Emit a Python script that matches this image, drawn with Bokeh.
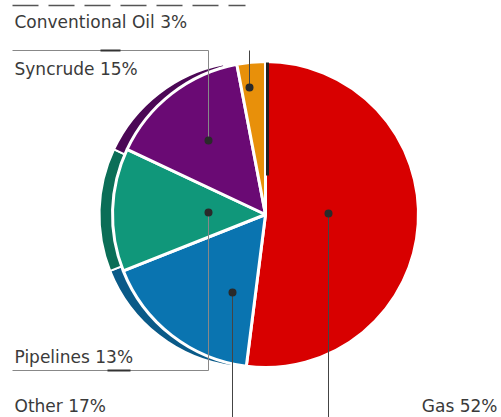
import numpy as np
from bokeh.plotting import figure
from bokeh.embed import file_html
from bokeh.resources import INLINE
from bokeh.core.properties import value

# ---- data ----
categories = ["Gas", "Other", "Pipelines", "Syncrude", "Conventional Oil"]
shares = [52, 17, 13, 15, 3]
labels = ["Gas 52%", "Other 17%", "Pipelines 13%", "Syncrude 15%", "Conventional Oil 3%"]

# ---- style / layout ----
colors = ["#d80000", "#0a74b0", "#10977a", "#6a0a74", "#e8900a"]
rim_colors = ["#d80000", "#0a5a88", "#0b6e57", "#4c0856", "#b86e08"]
W, H = 501, 417
def Y(py):
    return H - py

cx, cy, R = 265, Y(214), 153
rim_dx = -13

p = figure(width=W, height=H, x_range=(0, W), y_range=(0, H), min_border=0,
           x_axis_type=None, y_axis_type=None, toolbar_location=None,
           output_backend="svg", background_fill_color="white",
           border_fill_color="white")
p.grid.visible = False
p.outline_line_color = None

frac = np.array(shares, dtype=float) / np.sum(shares)
cum = np.concatenate([[0], np.cumsum(frac)])
starts = np.pi / 2 - cum[:-1] * 2 * np.pi
ends = np.pi / 2 - cum[1:] * 2 * np.pi

# rim (3D edge) for the left-hand slices
for i in [1, 2, 3]:
    p.wedge(x=cx + rim_dx, y=cy, radius=R, start_angle=starts[i], end_angle=ends[i],
            direction="clock", fill_color=rim_colors[i], line_color="white", line_width=2)

# main slices
p.wedge(x=[cx] * len(shares), y=[cy] * len(shares), radius=R,
        start_angle=list(starts), end_angle=list(ends), direction="clock",
        fill_color=colors, line_color="white", line_width=3)

# dark strip at the start of the gas slice
p.line([cx + 2, cx + 2], [Y(62), Y(175)], line_color="#222222", line_width=3)

# leader dots (Gas, Other, Pipelines, Syncrude, Conventional Oil)
dot_x = [328, 232, 208, 208, 249]
dot_y = [213, 292, 212, 140, 87]
lc = "#444444"
p.line([dot_x[0], dot_x[0]], [Y(dot_y[0]), 0], line_color=lc, line_width=1)
p.line([dot_x[1], dot_x[1]], [Y(dot_y[1]), 0], line_color=lc, line_width=1)
p.line([dot_x[2], dot_x[2], 12], [Y(dot_y[2]), Y(370), Y(370)], line_color="#888888", line_width=1)
p.line([107, 130], [Y(370), Y(370)], line_color="#333333", line_width=2)
p.line([dot_x[3], dot_x[3], 12], [Y(dot_y[3]), Y(50), Y(50)], line_color="#888888", line_width=1)
p.line([100, 120], [Y(50), Y(50)], line_color="#333333", line_width=2)
p.line([dot_x[4], dot_x[4]], [Y(dot_y[4]), Y(50)], line_color=lc, line_width=1)
p.line([12, 245], [Y(5), Y(5)], line_color="#555555", line_width=1.5, line_dash="26 10")

p.scatter(x=dot_x, y=[Y(v) for v in dot_y], size=8, fill_color="#2a2a2a", line_color=None)

# labels
lab_x = [497, 14, 14, 14, 14]
lab_y = [405, 405, 356, 68, 21]
aligns = ["right", "left", "left", "left", "left"]
for t, x, y, a in zip(labels, lab_x, lab_y, aligns):
    p.text(x=[x], y=[Y(y)], text=[t], text_font=value("DejaVu Sans"), text_font_size="17px",
           text_color="#3a3a3a", text_align=a, text_baseline="middle")

open("out.html", "w").write(file_html(p, INLINE))
